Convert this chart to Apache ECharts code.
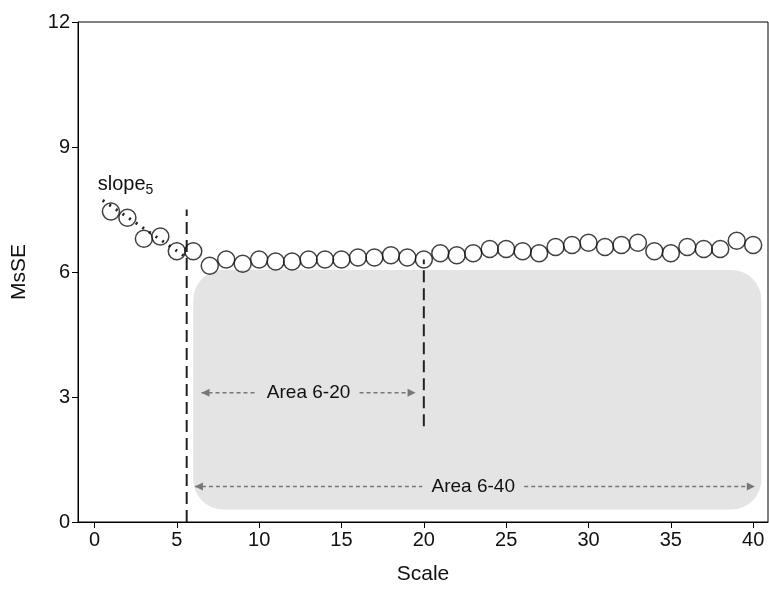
<!DOCTYPE html>
<html><head><meta charset="utf-8">
<script src="https://cdn.jsdelivr.net/npm/echarts@6/dist/echarts.min.js"></script>
<style>html,body{margin:0;background:#fff}#c{width:769px;height:596px}</style>
</head><body><div id="c"></div>
<script>
var scales = [];
for (var i = 1; i <= 40; i++) scales.push(i);
var msse = [7.45, 7.3, 6.8, 6.85, 6.5, 6.5, 6.15, 6.3, 6.2, 6.3, 6.25, 6.25, 6.3, 6.3, 6.3, 6.35, 6.35, 6.4, 6.35, 6.3,
            6.45, 6.4, 6.45, 6.55, 6.55, 6.5, 6.45, 6.6, 6.65, 6.7, 6.6, 6.65, 6.7, 6.5, 6.45, 6.6, 6.55, 6.55, 6.75, 6.65];
var slopeLine = [[0.5, 7.72], [5.4, 6.4]];
var cut5 = [[5.6, 0], [5.6, 7.5]];
var cut20 = [[20, 2.3], [20, 6.3]];
var areaBox = [6, 0.3, 40.5, 6.05];
var arrows = [
    {from: 6.5, to: 19.5, y: 3.1, label: 'Area 6-20', at: 13},
    {from: 6.1, to: 40.1, y: 0.85, label: 'Area 6-40', at: 23}
];
var xTicks = [0, 5, 10, 15, 20, 25, 30, 35, 40];

var chart = echarts.init(document.getElementById('c'));
var font = 'Liberation Sans, Arial, sans-serif';

function renderBox(params, api) {
    var p0 = api.coord([areaBox[0], areaBox[3]]);
    var p1 = api.coord([areaBox[2], areaBox[1]]);
    return {type: 'rect', shape: {x: p0[0], y: p0[1], width: p1[0] - p0[0], height: p1[1] - p0[1], r: 30},
        style: {fill: '#e4e4e4'}};
}

function renderArrow(params, api) {
    var a = arrows[params.dataIndex];
    var s = api.coord([a.from, a.y]), e = api.coord([a.to, a.y]), m = api.coord([a.at, a.y]);
    var col = '#777';
    var hw = a.label.length * 5 + 6;
    return {type: 'group', children: [
        {type: 'line', shape: {x1: s[0], y1: s[1], x2: m[0] - hw, y2: s[1]}, style: {stroke: col, lineWidth: 1.5, lineDash: [4, 3]}},
        {type: 'line', shape: {x1: m[0] + hw, y1: s[1], x2: e[0], y2: s[1]}, style: {stroke: col, lineWidth: 1.5, lineDash: [4, 3]}},
        {type: 'polygon', shape: {points: [[s[0], s[1]], [s[0] + 8, s[1] - 4], [s[0] + 8, s[1] + 4]]}, style: {fill: col}},
        {type: 'polygon', shape: {points: [[e[0], e[1]], [e[0] - 8, e[1] - 4], [e[0] - 8, e[1] + 4]]}, style: {fill: col}},
        {type: 'text', x: m[0], y: m[1], style: {text: a.label, fill: '#111', font: '19px ' + font, align: 'center', verticalAlign: 'middle'}}
    ]};
}

function renderLabel(params, api) {
    var p = api.coord([0.2, 8.1]);
    return {type: 'text', x: p[0], y: p[1], style: {
        text: 'slope{s|5}', fill: '#111', font: '20px ' + font, verticalAlign: 'middle',
        rich: {s: {fontSize: 14, fontFamily: font, fill: '#111', padding: [12, 0, 0, 0]}}}};
}

var option = {
    animation: false,
    grid: {left: 78, right: 1, top: 22, bottom: 74, show: true, borderColor: '#000', borderWidth: 1},
    xAxis: {
        type: 'value', min: -1, max: 40.9,
        name: 'Scale', nameLocation: 'middle', nameGap: 42,
        nameTextStyle: {fontSize: 21, color: '#111', fontFamily: font},
        axisLine: {show: true, onZero: false, lineStyle: {color: '#000'}},
        axisTick: {show: true, customValues: xTicks, length: 6, lineStyle: {color: '#000'}},
        axisLabel: {customValues: xTicks, fontSize: 20, color: '#111', fontFamily: font, margin: 8},
        splitLine: {show: false}
    },
    yAxis: {
        type: 'value', min: 0, max: 12, interval: 3,
        name: 'MsSE', nameLocation: 'middle', nameGap: 48,
        nameTextStyle: {fontSize: 21, color: '#111', fontFamily: font},
        axisLine: {show: true, onZero: false, lineStyle: {color: '#000'}},
        axisTick: {show: true, length: 6, lineStyle: {color: '#000'}},
        axisLabel: {fontSize: 20, color: '#111', fontFamily: font, margin: 8},
        splitLine: {show: false}
    },
    series: [
        {type: 'custom', renderItem: renderBox, data: [0], silent: true, z: 1},
        {type: 'custom', renderItem: renderArrow, data: arrows.map(function (a) { return [a.at, a.y]; }), z: 3},
        {type: 'line', data: cut5, symbol: 'none', lineStyle: {color: '#222', width: 2, type: [12, 6]}, z: 2},
        {type: 'line', data: cut20, symbol: 'none', lineStyle: {color: '#222', width: 2, type: [12, 6]}, z: 2},
        {type: 'line', data: slopeLine, symbol: 'none', lineStyle: {color: '#222', width: 3, type: [2, 6]}, z: 4},
        {type: 'scatter', data: scales.map(function (s, i) { return [s, msse[i]]; }),
            symbol: 'circle', symbolSize: 17,
            itemStyle: {color: 'rgba(255,255,255,0)', borderColor: '#111', borderWidth: 1.5}, z: 5},
        {type: 'custom', renderItem: renderLabel, data: [0], silent: true, z: 6}
    ]
};
chart.setOption(option);
</script></body></html>
